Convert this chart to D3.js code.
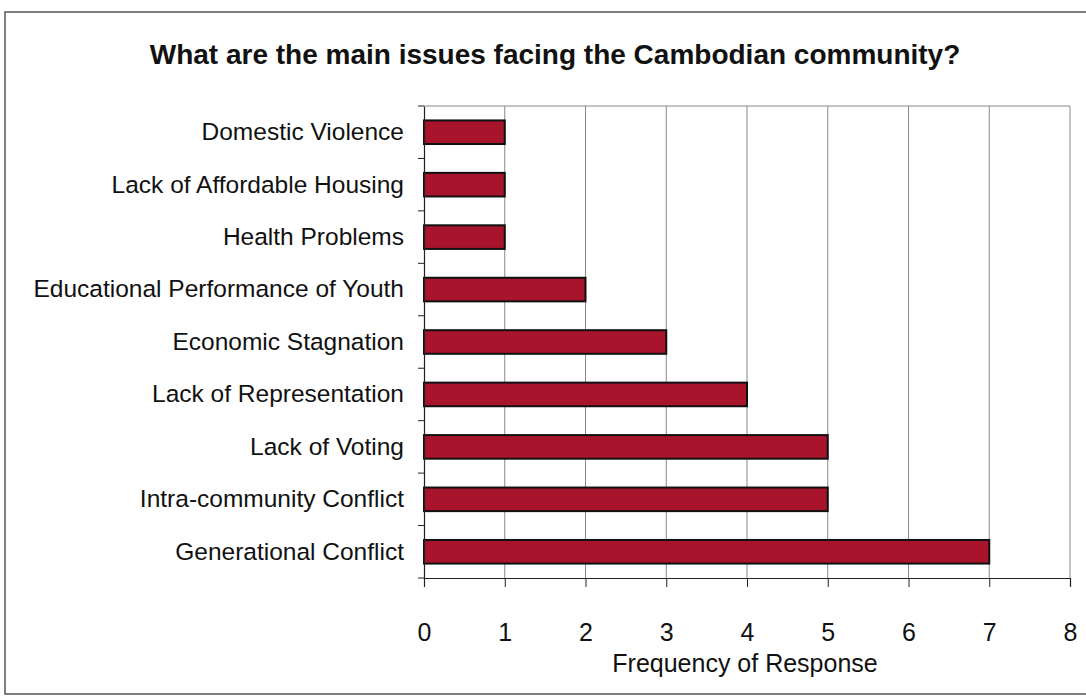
<!DOCTYPE html>
<html><head><meta charset="utf-8">
<script src="https://cdn.jsdelivr.net/npm/d3@7"></script>
<style>html,body{margin:0;padding:0;background:#fff;}svg{display:block;}</style>
</head><body>
<script>
const categories = ["Domestic Violence","Lack of Affordable Housing","Health Problems","Educational Performance of Youth","Economic Stagnation","Lack of Representation","Lack of Voting","Intra-community Conflict","Generational Conflict"];
const values = [1,1,1,2,3,4,5,5,7];
const xTicks = [0,1,2,3,4,5,6,7,8];
const title = "What are the main issues facing the Cambodian community?";
const xTitle = "Frequency of Response";

const W = 1086, H = 696;
const svg = d3.select("body").append("svg").attr("width", W).attr("height", H);
const font = "'Liberation Sans', Arial, sans-serif";

// outer frame
svg.append("rect").attr("x",5).attr("y",12).attr("width",1100).attr("height",682)
  .attr("fill","none").attr("stroke","#555").attr("stroke-width",1.5);

const m = {left:424, right:1070, top:106, bottom:578};
const x = d3.scaleLinear().domain([0,8]).range([m.left, m.right]);
const y = d3.scaleBand().domain(categories).range([m.top, m.bottom]).paddingInner(0.55).paddingOuter(0.275);
const yb = d3.scaleBand().domain(categories).range([m.top, m.bottom]);

// gridlines
svg.append("g").selectAll("line").data(xTicks.slice(1)).join("line")
  .attr("x1", d=>x(d)).attr("x2", d=>x(d)).attr("y1", m.top).attr("y2", m.bottom)
  .attr("stroke","#888").attr("stroke-width",1);
svg.append("line").attr("x1",m.left).attr("x2",m.right).attr("y1",m.top).attr("y2",m.top)
  .attr("stroke","#888").attr("stroke-width",1);

// bars
svg.append("g").selectAll("rect").data(categories).join("rect")
  .attr("x", x(0)).attr("y", d=>y(d))
  .attr("width", (d,i)=>x(values[i])-x(0)).attr("height", y.bandwidth())
  .attr("fill","#a8142c").attr("stroke","#111").attr("stroke-width",2);

// x axis
const xa = svg.append("g").attr("transform",`translate(0,${m.bottom})`)
  .call(d3.axisBottom(x).tickValues(xTicks).tickSize(9).tickPadding(36).tickFormat(d3.format("d")));
xa.select(".domain").attr("stroke","#222").attr("stroke-width",1.2);
xa.selectAll(".tick line").attr("stroke","#222");
xa.selectAll("text").attr("font-family",font).attr("font-size",25).attr("fill","#111");

// y axis
const ya = svg.append("g").attr("transform",`translate(${m.left},0)`)
  .call(d3.axisLeft(yb).tickSize(0).tickPadding(20));
ya.select(".domain").attr("stroke","#222").attr("stroke-width",1.2);
ya.selectAll("text").attr("font-family",font).attr("font-size",24.5).attr("fill","#111");
svg.append("g").selectAll("line").data(d3.range(categories.length+1)).join("line")
  .attr("x1", m.left-6).attr("x2", m.left)
  .attr("y1", i=>m.top + i*yb.step()).attr("y2", i=>m.top + i*yb.step())
  .attr("stroke","#222");

// titles
svg.append("text").attr("x",555).attr("y",64).attr("text-anchor","middle")
  .attr("font-family",font).attr("font-weight","bold").attr("font-size",28).attr("fill","#111").text(title);
svg.append("text").attr("x",745).attr("y",672).attr("text-anchor","middle")
  .attr("font-family",font).attr("font-size",25).attr("fill","#111").text(xTitle);
</script>
</body></html>
